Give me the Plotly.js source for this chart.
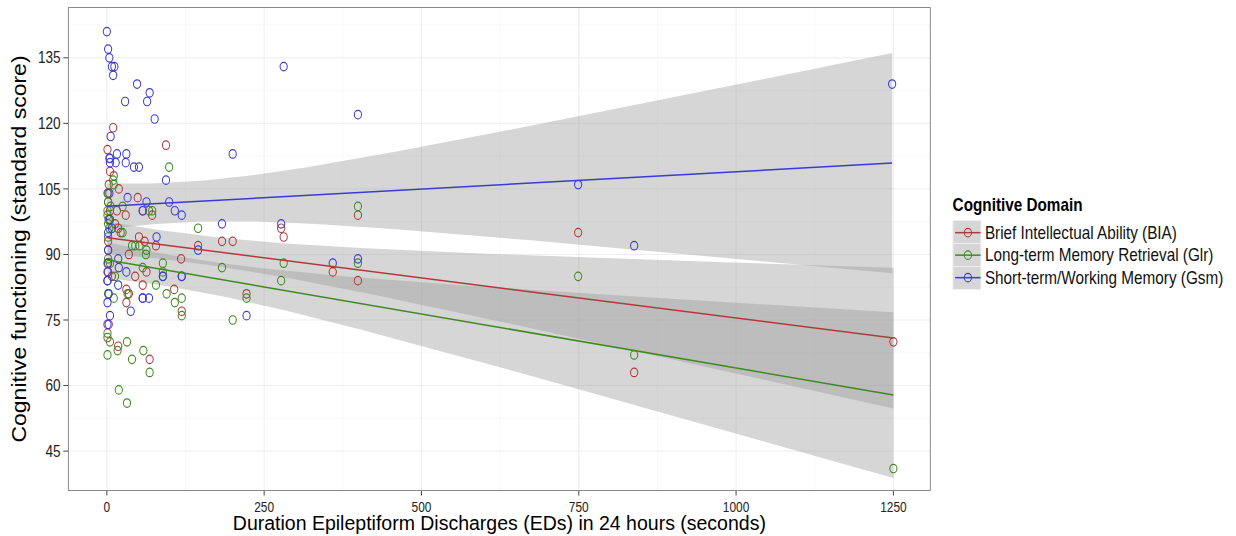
<!DOCTYPE html>
<html>
<head>
<meta charset="utf-8">
<script src="https://cdn.plot.ly/plotly-3.0.1.min.js"></script>
<style>
html,body{margin:0;padding:0;background:#fff;overflow:hidden}
#wrap{width:1236px;height:536px;overflow:hidden}
#chart{width:1454px;height:536px;transform:scaleX(0.85);transform-origin:0 0}
</style>
</head>
<body>
<div id="wrap"><div id="chart"></div></div>
<script>
// ---- data ----
const seriesNames = ["Brief Intellectual Ability (BIA)", "Long-term Memory Retrieval (Glr)", "Short-term/Working Memory (Gsm)"];
const seriesColors = ["#b03a3a", "#3f8a1f", "#3a3ad6"];

const biaX = [10,1,94,5,11,19,49,5,16,57,30,72,18,3,2,51,60,2,78,183,200,145,35,118,45,2,63,57,31,107,35,31,119,222,3,1,18,68,277,281,359,399,399,749,838,1250,13,22,1,8,1,3,2];
const biaY = [119,114,115,109,108,105,103,100,100,100,99,99,96,98,93,94,93,91,92,93,93,92,90,89,85,86,86,83,82,82,81,79,77,81,74,71,69,66,96,94,86,99,84,95,63,70,97,95,88,85,104,106,102];

const glrX = [99,10,11,2,25,67,2,25,2,40,45,52,63,62,145,2,5,57,89,89,13,78,2,11,33,95,108,119,119,183,200,222,281,277,399,399,749,838,1250,1,5,32,17,1,58,40,68,19,32,5,72,1,1,3,2,4,6];
const glrY = [110,107,106,102,101,100,97,95,94,92,92,92,91,90,96,89,88,87,88,86,85,83,81,80,81,81,79,80,76,87,75,80,88,84,101,88,85,67,41,72,70,70,68,67,68,66,63,59,56,112,100,99,100,98,104,96,101];

const gsmX = [0,2,4,8,12,10,48,68,29,64,76,6,16,31,200,4,5,14,30,43,51,94,4,33,63,99,108,119,57,5,8,2,183,277,79,2,145,18,19,31,89,119,1,18,57,67,1,38,5,1,281,399,359,399,749,838,1248,1,2,3,1,57,119,222,89];
const gsmY = [141,137,135,133,133,131,129,127,125,125,121,117,113,113,113,112,111,111,111,110,110,107,104,103,102,102,100,99,100,98,96,95,97,97,94,91,91,89,87,86,85,85,84,83,80,80,79,77,76,74,133,122,88,89,106,92,129,84,88,81,86,80,85,76,85];

const xTicks = [0,250,500,750,1000,1250];
const yTicks = [45,60,75,90,105,120,135];

// ---- linear model + 95% CI (as geom_smooth(method="lm")) ----
function tQuant975(df){
  const z = 1.959964;
  return z + (z*z*z + z)/(4*df) + (5*Math.pow(z,5) + 16*z*z*z + 3*z)/(96*df*df)
           + (3*Math.pow(z,7)+19*Math.pow(z,5)+17*z*z*z-15*z)/(384*df*df*df);
}
function lmFit(xs, ys){
  const n = xs.length;
  const mx = xs.reduce((a,b)=>a+b,0)/n, my = ys.reduce((a,b)=>a+b,0)/n;
  let sxx=0, sxy=0;
  for(let i=0;i<n;i++){ sxx += (xs[i]-mx)**2; sxy += (xs[i]-mx)*(ys[i]-my); }
  const b = sxy/sxx, a = my - b*mx;
  let sse=0; for(let i=0;i<n;i++){ sse += (ys[i]-a-b*xs[i])**2; }
  const s = Math.sqrt(sse/(n-2));
  const t = tQuant975(n-2);
  const lo = Math.min(...xs), hi = Math.max(...xs);
  const gx=[], fit=[], up=[], dn=[];
  for(let k=0;k<80;k++){
    const x = lo + (hi-lo)*k/79;
    const f = a + b*x;
    const se = s*Math.sqrt(1/n + (x-mx)**2/sxx);
    gx.push(x); fit.push(f); up.push(f + t*se); dn.push(f - t*se);
  }
  return {gx, fit, up, dn};
}

const groups = [[biaX,biaY],[glrX,glrY],[gsmX,gsmY]];
const traces = [];
const fits = groups.map(g=>lmFit(g[0], g[1]));
fits.forEach((f,i)=>{
  traces.push({
    x: f.gx.concat(f.gx.slice().reverse()),
    y: f.up.concat(f.dn.slice().reverse()),
    type:'scatter', mode:'lines', fill:'toself',
    fillcolor:'rgba(153,153,153,0.4)', line:{width:0},
    hoverinfo:'skip', showlegend:false
  });
});
groups.forEach((g,i)=>{
  traces.push({
    x: g[0], y: g[1], type:'scatter', mode:'markers',
    marker:{symbol:'circle-open', size:8.5, color:seriesColors[i], line:{width:1.2, color:seriesColors[i]}},
    showlegend:false, name:seriesNames[i]
  });
});
fits.forEach((f,i)=>{
  traces.push({
    x: f.gx, y: f.fit, type:'scatter', mode:'lines',
    line:{color:seriesColors[i], width:1.5}, showlegend:false, hoverinfo:'skip'
  });
});
seriesNames.forEach((nm,i)=>{
  traces.push({
    x:[null], y:[null], type:'scatter', mode:'lines+markers', name:nm,
    line:{color:seriesColors[i], width:1.5},
    marker:{symbol:'circle-open', size:8.5, color:seriesColors[i], line:{width:1.2, color:seriesColors[i]}}
  });
});

// geometry (reference pixels; page is drawn wider and compressed by SX)
const SX = 0.85;
const W=1454, H=536, L=69/SX, R=930/SX, T=8, B=490;
const pxr = v => (v-69)/(930-69);
const pyr = v => (B-v)/(B-T);
const shapes = [];
for(let k=0;k<3;k++){
  shapes.push({type:'rect', xref:'paper', yref:'paper', x0:pxr(953), x1:pxr(981),
    y0:pyr(220.5+23*k+23), y1:pyr(220.5+23*k), fillcolor:'#d6d6d6', line:{color:'#f0f0f0', width:1}, layer:'below'});
}

const layout = {
  width:W, height:H,
  margin:{l:L, r:W-R, t:T, b:H-B, pad:0},
  paper_bgcolor:'#fff', plot_bgcolor:'#fff',
  font:{family:'Liberation Sans, Arial, sans-serif', color:'#222', size:15},
  showlegend:true,
  legend:{x:pxr(951), xanchor:'left', y:pyr(193), yanchor:'top',
    title:{text:'<b>Cognitive Domain</b>', font:{size:18, color:'#000'}},
    font:{size:15, color:'#111'}, itemwidth:30, bgcolor:'rgba(0,0,0,0)', tracegroupgap:0},
  xaxis:{range:[-60.4,1308], tickvals:xTicks, ticktext:xTicks.map(String),
    showgrid:true, gridcolor:'#ebebeb', gridwidth:1, zeroline:false,
    minor:{tickvals:[125,375,625,875,1125], showgrid:true, gridcolor:'#f7f7f7', gridwidth:1, ticks:''},
    showline:true, mirror:true, linecolor:'#808080', linewidth:1,
    ticks:'outside', ticklen:4.5, tickcolor:'#333', tickwidth:1,
    tickfont:{size:14, color:'#222'},
    title:{text:'Duration Epileptiform Discharges (EDs) in 24 hours (seconds)', font:{size:21, color:'#000'}, standoff:1}},
  yaxis:{range:[36.1,146.4], tickvals:yTicks, ticktext:yTicks.map(String),
    showgrid:true, gridcolor:'#ebebeb', gridwidth:1, zeroline:false,
    minor:{tickvals:[52.5,67.5,82.5,97.5,112.5,127.5,142.5], showgrid:true, gridcolor:'#f7f7f7', gridwidth:1, ticks:''},
    showline:true, mirror:true, linecolor:'#808080', linewidth:1,
    ticks:'outside', ticklen:5.5, tickcolor:'#333', tickwidth:1,
    tickfont:{size:16, color:'#222'},
    title:{text:'Cognitive functioning (standard score)', font:{size:23, color:'#000'}, standoff:6}},
  shapes: shapes
};

Plotly.newPlot('chart', traces, layout, {displayModeBar:false, staticPlot:true}).then(gd=>{
  gd.querySelectorAll('.legend .scrollbox').forEach(s=>s.removeAttribute('clip-path'));
  gd.querySelectorAll('.legend').forEach(s=>s.removeAttribute('clip-path'));
  gd.querySelectorAll('.legendtext').forEach(t=>{ t.style.fontSize='18px'; });
  gd.querySelectorAll('.legendtitletext').forEach(t=>{
    const y = parseFloat(t.getAttribute('y')||'0'); t.setAttribute('y', y-5);
  });
  // widen the x-axis title to the reference's width (533px on screen)
  const xt = gd.querySelector('.g-xtitle text');
  const xg = gd.querySelector('.g-xtitle');
  if(xt && xg){
    const len = xt.getComputedTextLength();
    const k = (533/SX)/len;
    const cx = parseFloat(xt.getAttribute('x')||'0');
    xg.setAttribute('transform', 'translate('+cx+',0) scale('+k+',1) translate('+(-cx)+',0)');
  }
});
</script>
</body>
</html>
